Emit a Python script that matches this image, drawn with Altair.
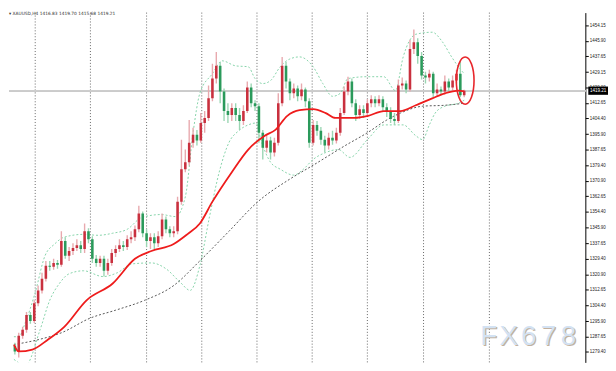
import altair as alt
import pandas as pd

# ---------------- data ----------------
open_ = [1282.7,1279.6,1288.0,1291.2,1299.1,1295.9,1305.4,1312.3,1318.6,1325.5,
         1324.9,1327.0,1326.0,1338.7,1330.8,1333.4,1335.0,1336.5,1334.4,1343.9,
         1339.7,1329.2,1327.0,1329.2,1322.8,1327.0,1332.3,1334.4,1336.5,1335.5,
         1339.7,1340.8,1345.0,1353.4,1342.9,1338.7,1340.8,1337.6,1341.3,1350.2,
         1345.0,1342.9,1343.9,1359.8,1377.2,1380.9,1391.4,1395.6,1392.5,1401.9,
         1404.6,1415.1,1425.7,1432.5,1418.8,1408.3,1406.2,1409.9,1406.2,1403.0,
         1408.3,1420.9,1412.5,1410.9,1396.7,1388.7,1392.5,1386.1,1391.4,1412.5,
         1432.5,1424.1,1417.8,1420.4,1416.2,1419.9,1413.5,1391.4,1400.9,1397.7,
         1393.0,1389.8,1394.0,1392.5,1396.7,1407.2,1418.8,1424.1,1412.5,1406.2,
         1409.3,1407.2,1412.5,1414.6,1412.5,1414.6,1410.4,1408.3,1404.1,1403.0,
         1422.0,1423.0,1419.9,1441.5,1445.2,1437.8,1427.3,1426.2,1428.3,1417.8,
         1419.9,1418.8,1424.1,1420.9,1424.6,1428.3,1416.83]
high = [1284.3,1289.6,1292.8,1300.7,1300.7,1307.0,1314.9,1321.8,1328.1,1328.1,
        1329.2,1328.6,1343.9,1340.8,1335.5,1337.6,1339.7,1338.7,1348.1,1345.5,
        1341.3,1331.3,1330.8,1330.8,1329.2,1334.4,1336.5,1339.7,1338.7,1341.8,
        1343.9,1347.1,1357.6,1354.5,1345.0,1342.9,1342.9,1343.9,1353.4,1351.8,
        1346.6,1346.6,1362.4,1393.0,1387.7,1403.5,1399.3,1398.2,1407.2,1408.3,
        1422.0,1433.6,1439.9,1434.6,1420.4,1412.5,1412.5,1412.5,1409.9,1411.4,
        1424.1,1423.0,1414.1,1412.5,1398.2,1395.6,1394.6,1394.0,1417.8,1437.3,
        1434.6,1425.7,1423.0,1422.0,1423.0,1420.9,1415.1,1403.5,1403.0,1399.8,
        1395.1,1396.7,1397.7,1399.3,1409.9,1421.5,1426.7,1425.7,1414.6,1411.4,
        1411.4,1414.6,1416.7,1416.2,1416.7,1416.2,1412.5,1410.4,1407.2,1425.2,
        1426.2,1424.6,1446.3,1452.0,1447.3,1439.9,1429.4,1430.4,1429.4,1423.0,
        1421.5,1427.3,1425.7,1427.3,1430.4,1435.2,1419.70]
low = [1278.0,1276.4,1286.4,1289.6,1294.4,1294.9,1303.8,1310.7,1317.0,1322.8,
       1323.4,1323.9,1324.9,1329.2,1328.1,1331.3,1333.4,1332.3,1332.3,1337.6,
       1327.0,1324.9,1324.9,1319.7,1320.7,1325.5,1330.2,1332.9,1333.4,1333.9,
       1337.6,1338.7,1343.4,1340.8,1335.5,1334.4,1334.4,1335.5,1339.7,1342.9,
       1340.8,1340.8,1342.3,1358.2,1375.6,1379.2,1388.7,1389.8,1391.4,1396.7,
       1403.0,1413.5,1423.0,1412.5,1403.0,1401.9,1403.0,1403.0,1398.2,1400.9,
       1407.2,1410.4,1408.3,1391.4,1382.4,1386.1,1382.4,1384.0,1389.8,1410.9,
       1420.4,1414.1,1415.1,1413.5,1414.1,1410.4,1388.7,1389.8,1395.1,1390.3,
       1386.1,1387.7,1390.3,1390.9,1395.1,1406.2,1416.7,1410.4,1403.0,1404.1,
       1404.6,1405.1,1410.4,1410.4,1410.9,1408.3,1405.1,1401.9,1400.9,1401.9,
       1419.9,1417.8,1418.8,1438.9,1433.6,1425.2,1423.0,1424.1,1415.7,1416.2,
       1416.7,1417.2,1418.8,1418.8,1423.0,1415.7,1415.68]
close = [1279.6,1288.0,1291.2,1299.1,1295.9,1305.4,1312.3,1318.6,1325.5,1324.9,
         1327.0,1326.0,1338.7,1330.8,1333.4,1335.0,1336.5,1334.4,1343.9,1339.7,
         1329.2,1327.0,1329.2,1322.8,1327.0,1332.3,1334.4,1336.5,1335.5,1339.7,
         1340.8,1345.0,1353.4,1342.9,1338.7,1340.8,1337.6,1341.3,1350.2,1345.0,
         1342.9,1343.9,1359.8,1377.2,1380.9,1391.4,1395.6,1392.5,1401.9,1404.6,
         1415.1,1425.7,1432.5,1418.8,1408.3,1406.2,1409.9,1406.2,1403.0,1408.3,
         1420.9,1412.5,1410.9,1396.7,1388.7,1392.5,1386.1,1391.4,1412.5,1432.5,
         1424.1,1417.8,1420.4,1416.2,1419.9,1413.5,1391.4,1400.9,1397.7,1393.0,
         1389.8,1394.0,1392.5,1396.7,1407.2,1418.8,1424.1,1412.5,1406.2,1409.3,
         1407.2,1412.5,1414.6,1412.5,1414.6,1410.4,1408.3,1404.1,1403.0,1422.0,
         1423.0,1419.9,1441.5,1445.2,1437.8,1427.3,1426.2,1428.3,1417.8,1419.9,
         1418.8,1424.1,1420.9,1424.6,1428.3,1416.7,1419.21]

# red moving average (bar index, price)
ma_red_i = [-0.25,1,4.5,8.5,12.75,18.5,25.25,31,35.25,41,44.5,47.75,51,56,60.25,64.5,
            67.25,70.25,73.5,77,80.25,82.75,87.75,91,95.25,99.5,103.5,107.75,111,114.5,116]
ma_red_v = [1283.3,1279.6,1280.6,1285.9,1292.8,1307.0,1316.0,1329.2,1333.4,1337.1,1342.3,
            1348.1,1359.8,1375.6,1387.7,1395.1,1398.2,1405.6,1408.8,1409.3,1407.2,1404.6,
            1404.6,1405.6,1408.3,1408.3,1411.4,1415.1,1417.8,1419.3,1418.8]
# slow moving average (grey dotted)
ma_slow_i = [-0.25,6,12,19.5,26,33.5,41,47.75,55.25,62.75,71,77,85.25,91,96,99.5,105.25,111,116]
ma_slow_v = [1283.3,1285.9,1289.6,1297.5,1301.7,1307.0,1314.9,1328.1,1343.9,1359.8,1371.9,
             1379.3,1389.8,1396.7,1403.5,1407.2,1410.9,1411.4,1412.5]
# Bollinger upper band
bb_up_i = [-0.25,1,2.75,5.25,7.75,10.25,12.75,17.75,21.5,25.25,29,32.75,37.75,41.5,44,46,
           47.75,51,53.5,57,60.25,62,64,66,68.5,71,73.5,77,79.5,82,84,86,91,95.25,98.25,
           100.25,103.5,107.75,110.25,112.75,114.5,116]
bb_up_v = [1287.5,1287.5,1295.4,1311.2,1330.7,1337.1,1340.8,1342.3,1341.8,1342.9,1345.0,
           1351.3,1352.9,1351.8,1362.4,1396.7,1417.8,1428.3,1435.2,1432.5,1432.0,1425.7,
           1423.0,1424.6,1432.0,1436.2,1437.3,1432.0,1423.0,1416.2,1417.8,1425.7,1426.7,
           1426.7,1419.3,1437.3,1449.4,1450.5,1445.7,1437.3,1432.0,1428.3]
# Bollinger lower band
bb_lo_i = [-0.25,2.75,6.5,9,11.5,14,17.75,22.75,26.5,30.25,35.25,39,42.75,45.25,47.75,
           50.25,52.75,55.25,57.75,60.25,62.25,63.5,66,68.5,72,74.5,77,80.25,83.5,86.5,
           91,95.25,100.25,103.5,105.25,107,108.5,111,114.5,116]
bb_lo_v = [1275.4,1272.2,1291.2,1307.0,1316.0,1321.2,1322.8,1319.7,1321.8,1326.5,1327.0,
           1323.9,1316.5,1312.3,1325.5,1351.8,1375.6,1391.4,1397.7,1400.9,1401.9,1393.0,
           1380.9,1377.2,1374.0,1377.2,1382.4,1386.1,1387.7,1383.5,1393.0,1400.9,1400.9,
           1395.1,1393.0,1400.9,1407.2,1410.9,1412.5,1414.1]

separators = [5.25, 19.5, 34, 48.25, 62.5, 76.75, 91, 105.5, 122.5]
price_ticks = [1271.15, 1279.40, 1287.65, 1295.90, 1304.40, 1312.65, 1320.90, 1329.40,
               1337.65, 1345.90, 1354.40, 1362.65, 1370.90, 1379.40, 1387.65, 1395.90,
               1404.40, 1412.65, 1420.90, 1429.15, 1437.65, 1445.90, 1454.15]
last_price = 1419.21
header = "\u25be XAUUSD,H4  1416.83 1419.70 1415.68 1419.21"
circle_at = (116.25, 1424.6)
watermark_chars = ["F", "X", "6", "7", "8"]

# ---------------- chart ----------------
candles = pd.DataFrame({"i": list(range(len(close))), "o": open_, "h": high, "l": low, "c": close})
ma_red = pd.DataFrame({"i": ma_red_i, "v": ma_red_v})
ma_slow = pd.DataFrame({"i": ma_slow_i, "v": ma_slow_v})
bb_up = pd.DataFrame({"i": bb_up_i, "v": bb_up_v})
bb_lo = pd.DataFrame({"i": bb_lo_i, "v": bb_lo_v})
seps = pd.DataFrame({"i": separators})

W, H = 585, 355
xs = alt.Scale(domain=[-0.25, 146], nice=False, zero=False)
ys = alt.Scale(domain=[1273.77, 1461.0], nice=False, zero=False)
yaxis = alt.Axis(orient="right", values=price_ticks, format=".2f", labelFontSize=4.5,
                 labelFont="Liberation Sans", labelColor="#222", tickSize=3, tickColor="#000",
                 domainColor="#000", grid=False, title=None, labelPadding=1,
                 labelOverlap=False, labelFlush=False, labelBound=False)
X = alt.X("i:Q", scale=xs, axis=None)

def Y(field):
    return alt.Y(field, type="quantitative", scale=ys, axis=yaxis)

RED_BODY, GREEN_BODY = "#c9303e", "#2b9a5b"
RED_WICK, GREEN_WICK = "#e8a9ae", "#9bd6b3"
up = "datum.c >= datum.o"

sep_layer = alt.Chart(seps).mark_rule(color="#666", strokeDash=[1, 2], strokeWidth=1).encode(x=X)
price_line = alt.Chart(candles).mark_rule(color="#cccccc", strokeWidth=1).encode(
    y=alt.Y(datum=last_price, type="quantitative", scale=ys, axis=yaxis),
    x=alt.value(0), x2=alt.value(W))

def band(df, color, dash, width):
    return alt.Chart(df).mark_line(color=color, strokeDash=dash, strokeWidth=width, clip=True,
                                   interpolate="monotone").encode(x=X, y=Y("v"))

bb_u = band(bb_up, "#86d3aa", [2, 2], 1)
bb_l = band(bb_lo, "#86d3aa", [2, 2], 1)
slow = band(ma_slow, "#555555", [2, 2], 1)

wicks = alt.Chart(candles).mark_rule(strokeWidth=1.4, clip=True).encode(
    x=X, y=Y("l"), y2="h",
    color=alt.condition(up, alt.value(RED_WICK), alt.value(GREEN_WICK)))
bodies = alt.Chart(candles).mark_bar(size=2.6, clip=True).encode(
    x=X, y=Y("o"), y2="c",
    color=alt.condition(up, alt.value(RED_BODY), alt.value(GREEN_BODY)))

red_ma = alt.Chart(ma_red).mark_line(color="#ee1c1c", strokeWidth=1.8, clip=True,
                                     interpolate="monotone").encode(x=X, y=Y("v"))

ellipse = alt.Chart(pd.DataFrame({"i": [circle_at[0]], "v": [circle_at[1]]})).mark_point(
    shape="M0,-1 A0.375,1 0 1,1 0,1 A0.375,1 0 1,1 0,-1 Z", size=2304, filled=False,
    stroke="#e8262b", strokeWidth=1.6, opacity=1).encode(x=X, y=Y("v"))

wm_df = pd.DataFrame({"t": watermark_chars, "k": list(range(len(watermark_chars)))})
wm_x = "487 + datum.k * 20.2"
wm_shadow = alt.Chart(wm_df).transform_calculate(px=wm_x + " + 1.2").mark_text(
    font="Liberation Sans", fontSize=28, align="center", baseline="alphabetic",
    color="#c2b19f").encode(text="t:N", x=alt.X("px:Q", scale=None, axis=None), y=alt.value(338.2))
wm_text = alt.Chart(wm_df).transform_calculate(px=wm_x).mark_text(
    font="Liberation Sans", fontSize=28, align="center", baseline="alphabetic",
    color="#d3e2f3").encode(text="t:N", x=alt.X("px:Q", scale=None, axis=None), y=alt.value(337))

head = alt.Chart(pd.DataFrame({"t": [header]})).mark_text(font="DejaVu Sans", fontSize=4.4,
                                                          align="left", baseline="middle",
                                                          color="#333").encode(
    text="t:N", x=alt.value(0), y=alt.value(1.5))

lbl_df = pd.DataFrame({"t": [f"{last_price:.2f}"]})
lbl_box = alt.Chart(lbl_df).mark_point(shape="M-1,-0.42H1V0.42H-1Z", size=400, filled=True,
                                       color="#000", opacity=1).encode(
    x=alt.value(W + 13), y=alt.Y(datum=last_price, type="quantitative", scale=ys, axis=yaxis))
lbl_txt = alt.Chart(lbl_df).mark_text(font="Liberation Sans", fontSize=4.6, color="#fff",
                                      align="center", baseline="middle").encode(
    text="t:N", x=alt.value(W + 13),
    y=alt.Y(datum=last_price, type="quantitative", scale=ys, axis=yaxis))

chart = alt.layer(sep_layer, price_line, bb_u, bb_l, slow, wicks, bodies, red_ma, ellipse,
                  wm_shadow, wm_text, head, lbl_box, lbl_txt).properties(
    width=W, height=H, padding=0, background="#ffffff"
).configure_view(stroke=None)

chart.save("out.html", embed_options={"renderer": "svg", "actions": False})
